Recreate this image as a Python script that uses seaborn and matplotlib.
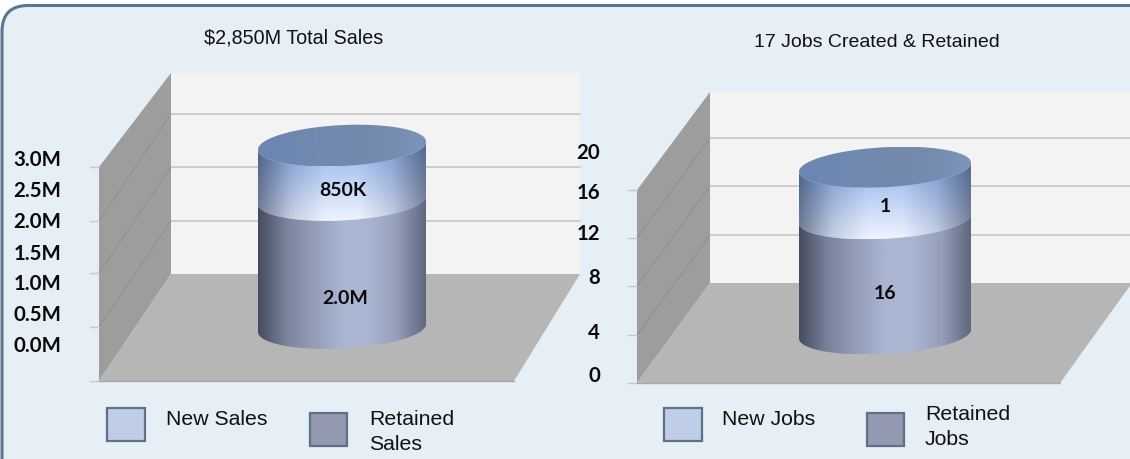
import numpy as np
import matplotlib.pyplot as plt
import seaborn as sns
from matplotlib.colors import LinearSegmentedColormap, to_rgb
from matplotlib.patches import FancyBboxPatch, Polygon, Rectangle

sns.set_theme(style="white")
W, H = 1130, 460

# sales chart, values in millions
sales_category = ["Sales"]
sales_new = [0.85]
sales_retained = [2.0]
sales_value_labels = ["850K", "2.0M"]
sales_ticks = ["3.0M", "2.5M", "2.0M", "1.5M", "1.0M", "0.5M", "0.0M"]
sales_title = "$2,850M Total Sales"

# jobs chart. the labels say 1 and 16 but the cylinder is not drawn to that
# ratio, so the heights here are read off the gridlines (4 units apart)
jobs_category = ["Jobs"]
jobs_new = [4.3]
jobs_retained = [9.6]
jobs_value_labels = ["1", "16"]
jobs_ticks = ["20", "16", "12", "8", "4", "0"]
jobs_title = "17 Jobs Created & Retained"

TITLE_FONT = "Liberation Sans"
TICK_FONT = "Lato"
LEGEND_FONT = "Liberation Sans"

side_cmap = LinearSegmentedColormap.from_list(
    "side", ["#454c60", "#7a839c", "#949eb9", "#aab5d1", "#aab5d1", "#949eb9", "#5f677e"])
new_shade = LinearSegmentedColormap.from_list(
    "shade", ["#7f8796", "#d4dae4", "#ffffff", "#ffffff", "#d4dae4", "#8b919e"])


def draw_room(bg, x0, x1, x2, x3, y_top, y_back, y_wall, y_front, grid_back, grid_side):
    bg.add_patch(Polygon([(x1, y_top), (x2, y_top), (x2, y_back), (x1, y_back)], color="#f3f3f3", lw=0))
    bg.add_patch(Polygon([(x0, y_wall), (x1, y_top), (x1, y_back), (x0, y_front)], color="#9d9d9d", lw=0))
    bg.add_patch(Polygon([(x0, y_front), (x1, y_back), (x2, y_back), (x3, y_front)], color="#b6b6b6", lw=0))
    for yb, ys in zip(grid_back, grid_side):
        bg.plot([x1, x2], [yb, yb], color="#c6c6c6", lw=1.2)
        bg.plot([x0, x1], [ys, yb], color="#8c8c8c", lw=0.6)
    for ys in [y_wall] + grid_side + [y_front]:
        bg.plot([x0 - 9, x0], [ys, ys], color="#c4c8cc", lw=1)
    bg.plot([x0, x3], [y_front, y_front], color="#a8a8a8", lw=1)


def draw_cylinder(fig, cx, half_w, base_y, px_unit, ylim, new, retained, b_px, tilt_px, labels, offsets):
    ax_w = half_w * 2 / 0.8
    y_bottom = base_y - ylim[0] * px_unit
    ax_h = (ylim[1] - ylim[0]) * px_unit
    ax = fig.add_axes([(cx - ax_w / 2) / W, (H - y_bottom) / H, ax_w / W, ax_h / H])
    ax.patch.set_alpha(0)

    cat = ["x"]
    sns.barplot(x=cat, y=[new + retained], color="#bfcde6", saturation=1, width=0.8, ax=ax)
    sns.barplot(x=cat, y=[retained], color="#9299b1", saturation=1, width=0.8, ax=ax)
    ax.set_xlim(-0.5, 0.5)
    ax.set_ylim(*ylim)
    ax.axis("off")

    top_bar, low_bar = ax.patches[0], ax.patches[1]
    xl, bw = top_bar.get_x(), top_bar.get_width()
    xr = xl + bw
    xm = xl + bw / 2
    b = b_px / px_unit
    slope = tilt_px / px_unit / bw

    th = np.linspace(np.pi, 2 * np.pi, 120)
    xs = xm + bw / 2 * np.cos(th)

    def front(y0):
        return y0 + slope * (xs - xm) + b * np.sin(th)

    def back(y0):
        return y0 + slope * (xs - xm) - b * np.sin(th)

    y_base, y_div, y_top = 0, low_bar.get_height(), top_bar.get_height()
    low_poly = np.column_stack([np.r_[xs, xs[::-1]], np.r_[front(y_base), front(y_div)[::-1]]])
    new_poly = np.column_stack([np.r_[xs, xs[::-1]], np.r_[front(y_div), front(y_top)[::-1]]])
    top_poly = np.column_stack([np.r_[xs, xs[::-1]], np.r_[front(y_top), back(y_top)[::-1]]])

    # shaded skins on the two bars, clipped to the round outline
    u = np.linspace(0, 1, 256)
    skin_low = side_cmap(u)[None, :, :3]
    v = np.linspace(0, 1, 120)[:, None, None]
    c_top, c_bot = np.array(to_rgb("#93b2ea")), np.array(to_rgb("#eef4ff"))
    ramp = c_top * (1 - v) + c_bot * v
    skin_new = ramp * new_shade(u)[None, :, :3]

    for poly, skin, bar in [(low_poly, skin_low, low_bar), (new_poly, skin_new, top_bar)]:
        clip = Polygon(poly, transform=ax.transData, fc="none", ec="none")
        ax.add_patch(clip)
        bar.set_clip_path(clip)
        im = ax.imshow(skin, extent=[xl, xr, poly[:, 1].min(), poly[:, 1].max()],
                       origin="upper", aspect="auto", zorder=3)
        im.set_clip_path(clip)

    lid = Polygon(top_poly, transform=ax.transData, fc="none", ec="none")
    ax.add_patch(lid)
    lid_skin = LinearSegmentedColormap.from_list("lid", ["#6a86b4", "#7189af", "#7389ad", "#7b94ba"])(u)[None, :, :3]
    im = ax.imshow(lid_skin, extent=[xl, xr, top_poly[:, 1].min(), top_poly[:, 1].max()],
                   aspect="auto", zorder=4)
    im.set_clip_path(lid)
    ax.set_xlim(-0.5, 0.5)
    ax.set_ylim(*ylim)

    ys = [y_div + (y_top - y_div) / 2, y_div / 2]
    for lab, y, off in zip(labels, ys, offsets):
        ax.annotate(lab, (xm, y), xytext=off, textcoords="offset pixels", ha="center", va="center",
                    fontsize=14, fontweight="bold", family=TICK_FONT, color="#0a0a0a", zorder=5)


def draw_legend(bg, x_new, x_ret, x_new_txt, x_ret_txt, new_txt, ret_txt, y_ret):
    bg.add_patch(Rectangle((x_new, 409), 38, 33, fc="#bfcde6", ec="#5b7289", lw=1.6))
    bg.add_patch(Rectangle((x_ret, 414), 37, 33, fc="#9299b1", ec="#5b7289", lw=1.6))
    bg.text(x_new_txt, 420, new_txt, fontsize=15.3, family=LEGEND_FONT, va="center", color="#111111")
    for line, y in zip(ret_txt, y_ret):
        bg.text(x_ret_txt, y, line, fontsize=15.3, family=LEGEND_FONT, va="center", color="#111111")


fig = plt.figure(figsize=(W / 100, H / 100), dpi=100, facecolor="white")
bg = fig.add_axes([0, 0, 1, 1])
bg.set_xlim(0, W)
bg.set_ylim(H, 0)
bg.axis("off")

bg.add_patch(FancyBboxPatch((2, 6.5), W + 60, H + 40, boxstyle="round,pad=0,rounding_size=26",
                            fc="#e6eef6", ec="#5a7690", lw=2.2))

draw_room(bg, 99, 171, 580, 514, 74, 275, 168, 382, [115, 168, 222], [222, 274, 328])
draw_room(bg, 637, 710, 1132, 1060, 93, 284, 191, 384, [139, 187, 236], [239, 287, 336])

bg.text(294, 38.5, sales_title, fontsize=14.2, family=TITLE_FONT, ha="center", va="center",
        color="#111111", parse_math=False)
bg.text(877, 42.5, jobs_title, fontsize=14, family=TITLE_FONT, ha="center", va="center",
        color="#111111", parse_math=False)

# tick labels do not sit on the gridlines in the original
for lab, y in zip(sales_ticks, [160.5, 191.5, 222.5, 253.5, 284.5, 315.5, 346.5]):
    bg.text(61, y, lab, fontsize=14.7, fontweight="bold", family=TICK_FONT, ha="right", va="center", color="#0a0a0a")
for lab, y in zip(jobs_ticks, [153.5, 193.5, 234.5, 278.5, 333.5, 376.5]):
    bg.text(600, y, lab, fontsize=14.7, fontweight="bold", family=TICK_FONT, ha="right", va="center", color="#0a0a0a")

draw_cylinder(fig, 342, 84, 329, 64, (-0.5, 3.5), sales_new[0], sales_retained[0], 20.5, 8,
              sales_value_labels, [(1, -17), (3, -33)])
draw_cylinder(fig, 885, 86, 335, 12, (-3, 20), jobs_new[0], jobs_retained[0], 20, 9,
              jobs_value_labels, [(0, -13), (0, -16)])

draw_legend(bg, 107, 310, 166, 369, "New Sales", ["Retained", "Sales"], [420, 445])
draw_legend(bg, 664, 867, 722, 925, "New Jobs", ["Retained", "Jobs"], [415, 440])

fig.savefig("out.png", dpi=100)
